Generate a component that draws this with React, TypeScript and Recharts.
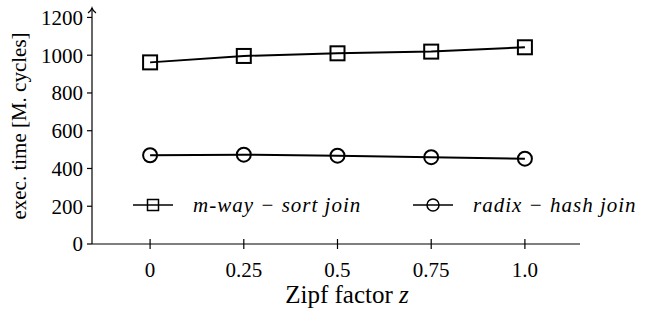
import { LineChart, Line, XAxis, YAxis, Legend } from 'recharts'

const zipfFactors = [0, 0.25, 0.5, 0.75, 1.0]
const zipfTickLabels = ['0', '0.25', '0.5', '0.75', '1.0']
const mwaySortJoin = [962, 996, 1010, 1019, 1042]
const radixHashJoin = [470, 473, 468, 460, 452]
const yTicks = [0, 200, 400, 600, 800, 1000, 1200]

const data = zipfFactors.map((z, i) => ({
  z,
  mway: mwaySortJoin[i],
  radix: radixHashJoin[i],
}))

const serif = '"Liberation Serif", "Times New Roman", serif'

const SquareDot = (props: any) => {
  const { cx, cy, size = 14, strokeWidth = 2 } = props
  if (cx == null || cy == null) return null
  return (
    <rect
      x={cx - size / 2}
      y={cy - size / 2}
      width={size}
      height={size}
      fill="none"
      stroke="#000"
      strokeWidth={strokeWidth}
    />
  )
}

const CircleDot = (props: any) => {
  const { cx, cy, r = 7, strokeWidth = 2 } = props
  if (cx == null || cy == null) return null
  return <circle cx={cx} cy={cy} r={r} fill="none" stroke="#000" strokeWidth={strokeWidth} />
}

const XTick = (props: any) => {
  const { x, y, index } = props
  return (
    <g>
      <line x1={x} x2={x} y1={y - 5} y2={y + 5} stroke="#000" strokeWidth={1.2} />
      <text x={x} y={y + 33} textAnchor="middle" fontFamily={serif} fontSize={21} fill="#000">
        {zipfTickLabels[index]}
      </text>
    </g>
  )
}

const legendIcon: Record<string, (cx: number, cy: number) => JSX.Element> = {
  mway: (cx, cy) => <SquareDot cx={cx} cy={cy} size={11} strokeWidth={1.5} />,
  radix: (cx, cy) => <CircleDot cx={cx} cy={cy} r={6} strokeWidth={1.5} />,
}

const renderLegend = (props: any) => (
  <div style={{ display: 'flex' }}>
    {(props.payload || []).map((entry: any) => (
      <div key={entry.dataKey} style={{ display: 'flex', alignItems: 'center', width: 280, flexShrink: 0 }}>
        <svg width={40} height={20} style={{ flexShrink: 0 }}>
          <line x1={0} x2={40} y1={10} y2={10} stroke="#000" strokeWidth={1.5} />
          {legendIcon[entry.dataKey](20, 10)}
        </svg>
        <span
          style={{
            marginLeft: 20,
            fontFamily: serif,
            fontStyle: 'italic',
            fontSize: 21,
            letterSpacing: 1,
            color: '#000',
            lineHeight: '20px',
            whiteSpace: 'nowrap',
          }}
        >
          {entry.value}
        </span>
      </div>
    ))}
  </div>
)

export default function App() {
  return (
    <div style={{ position: 'absolute', left: 0, top: 0, width: 648, height: 314, background: '#fff' }}>
      <LineChart width={648} height={314} data={data} margin={{ top: 8, right: 68, left: 32, bottom: 10 }}>
        <defs>
          <marker
            id="arrowUp"
            markerUnits="userSpaceOnUse"
            markerWidth={14}
            markerHeight={14}
            viewBox="-7 -2 14 14"
            refX={0}
            refY={0}
            orient="0"
          >
            <path d="M -4 5 Q -1 3 0 0 Q 1 3 4 5" fill="none" stroke="#000" strokeWidth={1.2} />
          </marker>
        </defs>
        <XAxis
          dataKey="z"
          type="number"
          domain={[-0.155, 1.147]}
          ticks={zipfFactors}
          height={60}
          tickSize={0}
          tickMargin={0}
          tickLine={false}
          tick={<XTick />}
          axisLine={{ stroke: '#000', strokeWidth: 1.2 }}
          label={{
            content: (p: any) => {
              const vb = p.viewBox
              return (
                <text
                  x={vb.x + vb.width / 2 + 11}
                  y={vb.y + 59}
                  textAnchor="middle"
                  fontFamily={serif}
                  fontSize={25}
                  fill="#000"
                >
                  Zipf factor <tspan fontStyle="italic">z</tspan>
                </text>
              )
            },
          }}
        />
        <YAxis
          type="number"
          domain={[0, 1250]}
          ticks={yTicks}
          width={60}
          tickSize={5}
          tickMargin={4}
          tick={{ fill: '#000', fontSize: 21, fontFamily: serif }}
          tickLine={{ stroke: '#000', strokeWidth: 1.2 }}
          axisLine={{ stroke: '#000', strokeWidth: 1.2, markerStart: 'url(#arrowUp)' }}
          label={{
            content: (p: any) => {
              const vb = p.viewBox
              return (
                <text
                  transform={`translate(${vb.x - 6}, ${vb.y + vb.height / 2}) rotate(-90)`}
                  textAnchor="middle"
                  fontFamily={serif}
                  fontSize={21}
                  fill="#000"
                >
                  exec. time [M. cycles]
                </text>
              )
            },
          }}
        />
        <Legend
          content={renderLegend}
          layout="horizontal"
          align="center"
          verticalAlign="middle"
          wrapperStyle={{ position: 'absolute', top: 195, left: 133, width: 580, height: 20 }}
        />
        <Line
          dataKey="mway"
          name="m-way − sort join"
          stroke="#000"
          strokeWidth={2}
          dot={(p: any) => <SquareDot key={`s-${p.index}`} cx={p.cx} cy={p.cy} />}
          activeDot={false}
          isAnimationActive={false}
        />
        <Line
          dataKey="radix"
          name="radix − hash join"
          stroke="#000"
          strokeWidth={2}
          dot={(p: any) => <CircleDot key={`c-${p.index}`} cx={p.cx} cy={p.cy} />}
          activeDot={false}
          isAnimationActive={false}
        />
      </LineChart>
    </div>
  )
}
